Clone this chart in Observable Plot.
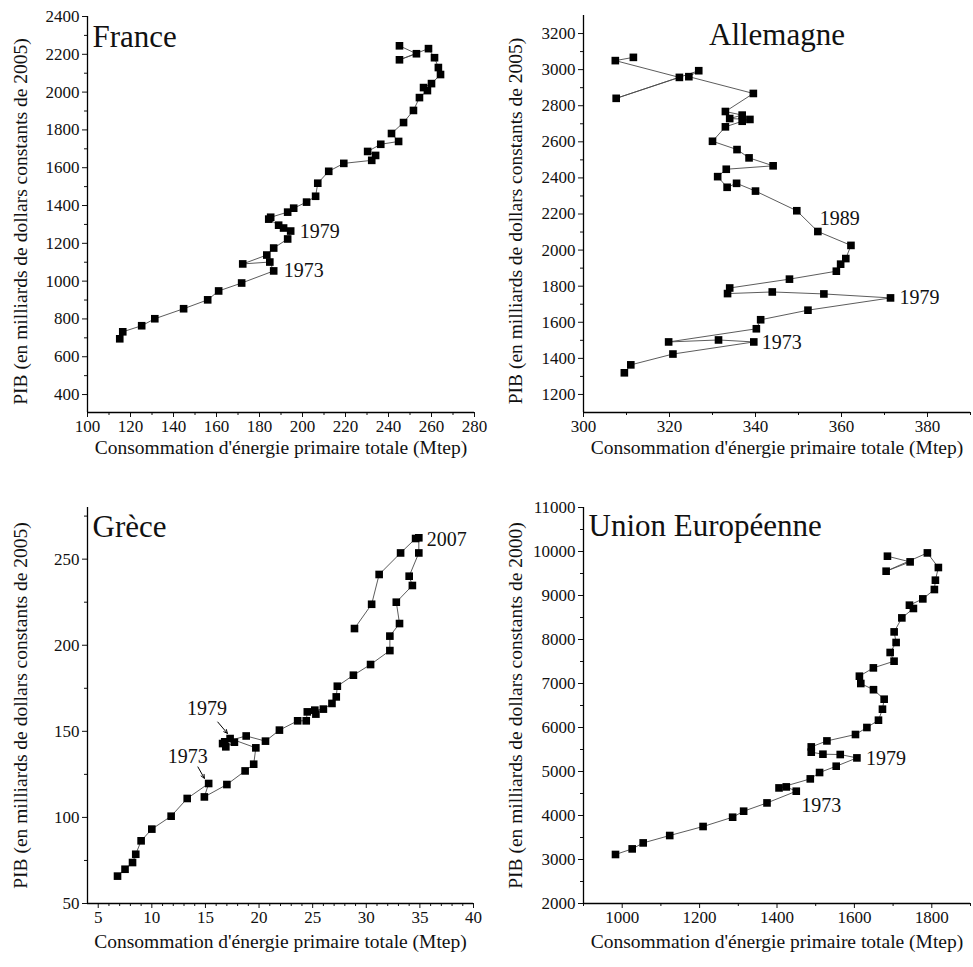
<!DOCTYPE html>
<html><head><meta charset="utf-8">
<script src="https://cdn.jsdelivr.net/npm/d3@7"></script>
<script src="https://cdn.jsdelivr.net/npm/@observablehq/plot@0.6"></script>
<style>
html,body{margin:0;padding:0;background:#fff;}
#root{position:relative;width:973px;height:967px;overflow:hidden;background:#fff;}
.cell{position:absolute;}
.cell svg{overflow:visible;}
</style></head><body><div id="root"></div>
<script>
// ---------- data ----------
const xAxisTitle = "Consommation d'énergie primaire totale (Mtep)";
const yTitle2005 = "PIB (en milliards de dollars constants de 2005)";
const yTitle2000 = "PIB (en milliards de dollars constants de 2000)";

const franceEnergy = [115.0,116.4,125.2,131.3,144.7,155.9,161.0,171.7,186.6,184.8,172.2,183.4,186.6,193.1,194.5,191.2,188.9,184.3,185.2,193.1,195.9,201.9,206.1,207.1,212.2,219.2,232.2,234.0,230.3,236.4,244.7,241.4,247.0,251.6,254.4,258.1,256.3,260.0,264.2,263.2,261.4,258.6,245.1,253.0,245.1];
const franceGDP = [695,732,764,801,854,901,948,990,1054,1101,1091,1138,1175,1223,1265,1281,1296,1328,1338,1365,1386,1418,1449,1518,1581,1623,1639,1665,1686,1724,1739,1781,1839,1903,1971,2008,2024,2045,2093,2130,2182,2230,2171,2203,2245];
const franceNotes = [{label: "1973", at: 8}, {label: "1979", at: 14}];
const franceXTicks = [100,120,140,160,180,200,220,240,260,280];
const franceXMinor = [110,130,150,170,190,210,230,250,270];
const franceYTicks = [400,600,800,1000,1200,1400,1600,1800,2000,2200,2400];
const franceYMinor = [500,700,900,1100,1300,1500,1700,1900,2100,2300];

const allemagneEnergy = [309.5,311.0,320.8,339.6,331.4,319.8,340.2,341.2,352.2,371.4,355.9,343.9,333.5,334.0,347.9,358.8,359.8,361.0,362.2,354.5,349.6,340.0,335.6,333.4,331.2,333.2,344.1,338.5,335.7,330.0,333.0,336.9,338.7,334.0,336.9,333.0,339.5,324.5,326.8,307.6,322.3,307.4,311.6];
const allemagneGDP = [1320,1364,1424,1491,1502,1491,1564,1614,1667,1735,1757,1768,1759,1790,1839,1883,1922,1953,2026,2103,2218,2327,2370,2348,2407,2448,2467,2511,2557,2603,2683,2714,2724,2729,2748,2768,2868,2961,2994,2841,2957,3050,3068];
const allemagneNotes = [{label: "1973", at: 3}, {label: "1979", at: 9}, {label: "1989", at: 19}];
const allemagneXTicks = [300,320,340,360,380];
const allemagneXMinor = [310,330,350,370,390];
const allemagneYTicks = [1200,1400,1600,1800,2000,2200,2400,2600,2800,3000,3200];
const allemagneYMinor = [1300,1500,1700,1900,2100,2300,2500,2700,2900,3100];

const greceEnergy = [6.8,7.5,8.2,8.5,9.0,10.0,11.8,13.3,15.3,14.9,17.0,18.7,19.5,19.7,17.3,17.7,16.9,16.6,16.8,18.8,20.6,21.9,23.6,24.4,24.5,25.3,25.2,26.0,26.8,27.2,27.3,28.8,30.4,32.2,32.2,33.1,32.8,34.3,34.0,34.9,34.9,34.6,33.2,31.2,30.5,28.9];
const greceGDP = [65.9,69.9,73.8,78.6,86.4,93.2,100.7,111.0,119.7,111.9,119.1,127.0,130.9,140.4,145.8,143.7,141.0,142.9,143.9,147.3,144.3,150.7,156.1,156.1,161.3,160.0,162.3,162.9,166.2,170.0,176.2,182.6,188.8,196.9,205.3,212.6,225.0,234.7,240.1,253.6,262.4,262.0,253.6,241.1,223.8,209.7];
const greceNotes = [{label: "1973", at: 8}, {label: "1979", at: 14}, {label: "2007", at: 40}];
const greceXTicks = [5,10,15,20,25,30,35,40];
const greceXMinor = [6,7,8,9,11,12,13,14,16,17,18,19,21,22,23,24,26,27,28,29,31,32,33,34,36,37,38,39];
const greceYTicks = [50,100,150,200,250];
const greceYMinor = [75,125,175,225,275];

const ueEnergy = [982.7,1025.8,1054.2,1122.8,1209.0,1285.4,1313.8,1374.2,1449.8,1424.0,1405.2,1486.0,1510.0,1553.0,1606.5,1563.4,1518.7,1488.5,1488.5,1529.0,1602.8,1632.3,1662.2,1672.5,1676.9,1649.3,1616.5,1612.9,1649.0,1702.5,1692.4,1707.8,1702.7,1722.6,1752.5,1742.2,1776.8,1806.7,1809.3,1817.0,1788.6,1682.0,1744.0,1685.4];
const ueGDP = [3114,3241,3377,3545,3750,3961,4098,4286,4552,4650,4627,4832,4977,5120,5309,5386,5393,5439,5559,5695,5841,6000,6166,6416,6643,6859,7000,7166,7355,7507,7705,7932,8173,8491,8705,8780,8923,9136,9348,9636,9968,9552,9764,9893];
const ueNotes = [{label: "1973", at: 8}, {label: "1979", at: 14}];
const ueXTicks = [1000,1200,1400,1600,1800];
const ueXMinor = [900,1100,1300,1500,1700,1900];
const ueYTicks = [2000,3000,4000,5000,6000,7000,8000,9000,10000,11000];
const ueYMinor = [2500,3500,4500,5500,6500,7500,8500,9500,10500];

// ---------- drawing ----------
const FONT = "'Liberation Serif', 'DejaVu Serif', serif";

function drawPanel(p) {
  const idx = d3.range(p.energy.length);
  const X = i => p.energy[i], Y = i => p.gdp[i];
  const marks = [
    Plot.axisX({ticks: p.xTicks, tickSize: 5, tickPadding: 2, tickFormat: d => String(d), fontSize: 17, label: null}),
    Plot.axisX({ticks: p.xMinor, tickSize: 3, tickFormat: () => "", label: null}),
    Plot.axisY({ticks: p.yTicks, tickSize: 5, tickPadding: 3, tickFormat: d => String(d), fontSize: 17, label: null}),
    Plot.axisY({ticks: p.yMinor, tickSize: 3, tickFormat: () => "", label: null}),
    Plot.ruleX([p.xDomain[0]], {stroke: "#000", strokeWidth: 1.3}),
    Plot.ruleY([p.yDomain[0]], {stroke: "#000", strokeWidth: 1.3}),
    Plot.line(idx, {x: X, y: Y, stroke: "#4a4a4a", strokeWidth: 0.9}),
    Plot.dot(idx, {x: X, y: Y, symbol: "square", r: 4.3, fill: "#000", stroke: "none"}),
    Plot.text([p.title], {text: d => d, frameAnchor: p.titleAnchor, textAnchor: p.titleAnchor === "top" ? "middle" : "start",
      lineAnchor: "middle", dx: p.titleDx, dy: p.titleDy, fontSize: 31}),
    Plot.text([xAxisTitle], {text: d => d, frameAnchor: "bottom", lineAnchor: "middle", dy: p.xTitleDy, fontSize: 19.5}),
    Plot.text([p.yTitle], {text: d => d, frameAnchor: "left", rotate: -90, textAnchor: "middle", lineAnchor: "middle",
      dx: p.yTitleDx, dy: p.yTitleDy, fontSize: 19.5})
  ];
  for (const n of p.notes) {
    const o = p.noteStyle[n.label];
    marks.push(Plot.text([n.at], {x: X, y: Y, text: () => n.label, dx: o.dx, dy: o.dy,
      textAnchor: o.anchor || "start", lineAnchor: "middle", fontSize: 20}));
    if (o.arrow) {
      marks.push(Plot.arrow([n.at], {x1: i => X(i) + o.arrow[0], y1: i => Y(i) + o.arrow[1],
        x2: i => X(i) + o.arrow[2], y2: i => Y(i) + o.arrow[3],
        stroke: "#000", strokeWidth: 1, headLength: 6, headAngle: 50}));
    }
  }
  return Plot.plot({
    width: p.w, height: p.h,
    marginLeft: p.ml, marginRight: p.mr, marginTop: p.mt, marginBottom: p.mb,
    x: {domain: p.xDomain}, y: {domain: p.yDomain},
    style: {fontFamily: FONT, fontSize: "17px", color: "#111", background: "transparent", overflow: "visible"},
    marks
  });
}

const panels = [
  {left: 0, top: 0, w: 486, h: 470, ml: 87, mr: 12, mt: 16, mb: 58,
   energy: franceEnergy, gdp: franceGDP, notes: franceNotes,
   xDomain: [100, 280], yDomain: [305, 2400],
   xTicks: franceXTicks, xMinor: franceXMinor, yTicks: franceYTicks, yMinor: franceYMinor,
   title: "France", titleAnchor: "top-left", titleDx: 5, titleDy: 21,
   yTitle: yTitle2005, xTitleDy: 35, yTitleDx: -67, yTitleDy: 7,
   noteStyle: {"1973": {dx: 10, dy: 0}, "1979": {dx: 9, dy: 1}}},
  {left: 486, top: 0, w: 487, h: 470, ml: 97, mr: 3, mt: 15, mb: 58,
   energy: allemagneEnergy, gdp: allemagneGDP, notes: allemagneNotes,
   xDomain: [300, 390], yDomain: [1100, 3300],
   xTicks: allemagneXTicks, xMinor: allemagneXMinor, yTicks: allemagneYTicks, yMinor: allemagneYMinor,
   title: "Allemagne", titleAnchor: "top", titleDx: 0, titleDy: 20,
   yTitle: yTitle2005, xTitleDy: 35, yTitleDx: -68, yTitleDy: 7,
   noteStyle: {"1973": {dx: 8, dy: 1}, "1979": {dx: 9, dy: 0}, "1989": {dx: 2, dy: -13}}},
  {left: 0, top: 480, w: 486, h: 487, ml: 87, mr: 13, mt: 27, mb: 64,
   energy: greceEnergy, gdp: greceGDP, notes: greceNotes,
   xDomain: [4, 40], yDomain: [50, 280],
   xTicks: greceXTicks, xMinor: greceXMinor, yTicks: greceYTicks, yMinor: greceYMinor,
   title: "Grèce", titleAnchor: "top-left", titleDx: 5, titleDy: 19.5,
   yTitle: yTitle2005, xTitleDy: 38, yTitleDx: -67, yTitleDy: 0,
   noteStyle: {"2007": {dx: 8, dy: 2},
     "1979": {dx: -23, dy: -30, anchor: "middle", arrow: [-1.15, 9.6, -0.25, 3.0]},
     "1973": {dx: -21, dy: -27, anchor: "middle", arrow: [-1.0, 9.6, -0.4, 3.0]}}},
  {left: 486, top: 480, w: 487, h: 487, ml: 97, mr: 3, mt: 27, mb: 64,
   energy: ueEnergy, gdp: ueGDP, notes: ueNotes,
   xDomain: [900, 1900], yDomain: [2000, 11000],
   xTicks: ueXTicks, xMinor: ueXMinor, yTicks: ueYTicks, yMinor: ueYMinor,
   title: "Union Européenne", titleAnchor: "top-left", titleDx: 5, titleDy: 19,
   yTitle: yTitle2000, xTitleDy: 38, yTitleDx: -68, yTitleDy: 0,
   noteStyle: {"1973": {dx: 5, dy: 14}, "1979": {dx: 9, dy: 1}}}
];

const root = document.getElementById("root");
for (const p of panels) {
  const cell = document.createElement("div");
  cell.className = "cell";
  cell.style.left = p.left + "px";
  cell.style.top = p.top + "px";
  cell.appendChild(drawPanel(p));
  root.appendChild(cell);
}
</script>
</body></html>
